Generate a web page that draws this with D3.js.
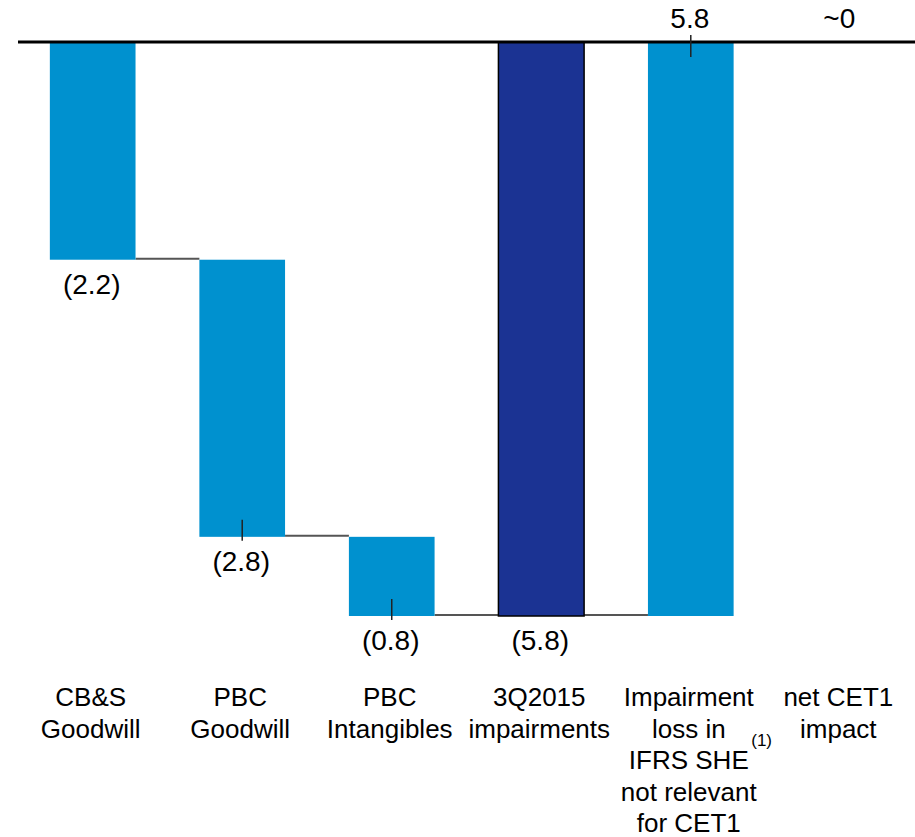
<!DOCTYPE html>
<html>
<head>
<meta charset="utf-8">
<script src="https://cdn.jsdelivr.net/npm/d3@7"></script>
<style>
  body { margin: 0; background: #fff; }
  text { font-family: "Liberation Sans", Arial, sans-serif; fill: #000; }
</style>
</head>
<body>
<svg id="waterfall"></svg>
<script>
// chart data
let categories = ['CB&S Goodwill', 'PBC Goodwill', 'PBC Intangibles', '3Q2015 impairments', 'Impairment loss', 'net CET1 impact'];
let categoryLines = [
  ['CB&S', 'Goodwill'],
  ['PBC', 'Goodwill'],
  ['PBC', 'Intangibles'],
  ['3Q2015', 'impairments'],
  ['Impairment', 'loss in', 'IFRS SHE', 'not relevant', 'for CET1'],
  ['net CET1', 'impact']
];
let values = [-2.2, -2.8, -0.8, -5.8, 5.8, 0];
let isTotal = [false, false, false, true, false, true];
let valueLabels = ['(2.2)', '(2.8)', '(0.8)', '(5.8)', '5.8', '~0'];
let hasTick = [false, true, true, false, true, false];
let footnote = '(1)';

let width = 915;
let height = 837;

let svg = d3.select('#waterfall')
  .attr('width', width)
  .attr('height', height);

// running totals for the waterfall
let rows = [];
let running = 0;
values.forEach((v, i) => {
  let start, end;
  if (isTotal[i]) {
    start = 0;
    end = v;
    running = v;
  } else {
    start = running;
    end = running + v;
    running = end;
  }
  rows.push({
    cat: categories[i],
    lines: categoryLines[i],
    start: start,
    end: end,
    total: isTotal[i],
    label: valueLabels[i],
    tick: hasTick[i]
  });
});

let x = d3.scaleBand()
  .domain(categories)
  .range([18, 915])
  .paddingInner(0.427)
  .paddingOuter(0.213);

let y = d3.scaleLinear()
  .domain([-5.8, 0])
  .range([616, 42]);

let light = '#0091cf';
let dark = '#1b3393';

// connectors between bars
let links = rows.slice(0, -1).map((d, i) => ({ from: d, to: rows[i + 1], level: d.end }))
  .filter(d => d.level !== 0);

svg.append('g').selectAll('line')
  .data(links)
  .join('line')
  .attr('x1', d => x(d.from.cat) + x.bandwidth())
  .attr('x2', d => x(d.to.cat))
  .attr('y1', d => y(d.level) - 1)
  .attr('y2', d => y(d.level) - 1)
  .attr('stroke', '#555')
  .attr('stroke-width', 2);

// bars
svg.append('g').selectAll('rect')
  .data(rows.filter(d => d.start !== d.end))
  .join('rect')
  .attr('x', d => x(d.cat))
  .attr('width', x.bandwidth())
  .attr('y', d => y(Math.max(d.start, d.end)))
  .attr('height', d => Math.abs(y(d.start) - y(d.end)))
  .attr('fill', d => d.total ? dark : light)
  .attr('stroke', d => d.total ? '#000' : 'none')
  .attr('stroke-width', 1.5);

// zero line
svg.append('line')
  .attr('x1', 18)
  .attr('x2', width)
  .attr('y1', y(0))
  .attr('y2', y(0))
  .attr('stroke', '#000')
  .attr('stroke-width', 3);

// small leader ticks at the value end of some bars
svg.append('g').selectAll('line')
  .data(rows.filter(d => d.tick))
  .join('line')
  .attr('x1', d => x(d.cat) + x.bandwidth() / 2)
  .attr('x2', d => x(d.cat) + x.bandwidth() / 2)
  .attr('y1', d => d.end < d.start ? y(d.end) - 17 : y(d.end) - 7)
  .attr('y2', d => d.end < d.start ? y(d.end) + 4 : y(d.end) + 15)
  .attr('stroke', '#222')
  .attr('stroke-width', 1.5);

// value labels
svg.append('g').selectAll('text')
  .data(rows)
  .join('text')
  .attr('x', d => x(d.cat) + x.bandwidth() / 2 - 1)
  .attr('y', d => d.end < 0 ? y(d.end) + 34 : y(d.end) - 14)
  .attr('text-anchor', 'middle')
  .style('font-size', '28px')
  .text(d => d.label);

// category labels
let catGroup = svg.append('g');
rows.forEach(d => {
  let t = catGroup.append('text')
    .attr('text-anchor', 'middle')
    .style('font-size', '26px');
  d.lines.forEach((line, j) => {
    t.append('tspan')
      .attr('x', x(d.cat) + x.bandwidth() / 2 - 2)
      .attr('y', 706 + j * 31.5)
      .text(line);
  });
});

// footnote marker next to the IFRS label
svg.append('text')
  .attr('x', x(categories[4]) + x.bandwidth() + 28)
  .attr('y', 746)
  .attr('text-anchor', 'middle')
  .style('font-size', '17px')
  .text(footnote);
</script>
</body>
</html>
